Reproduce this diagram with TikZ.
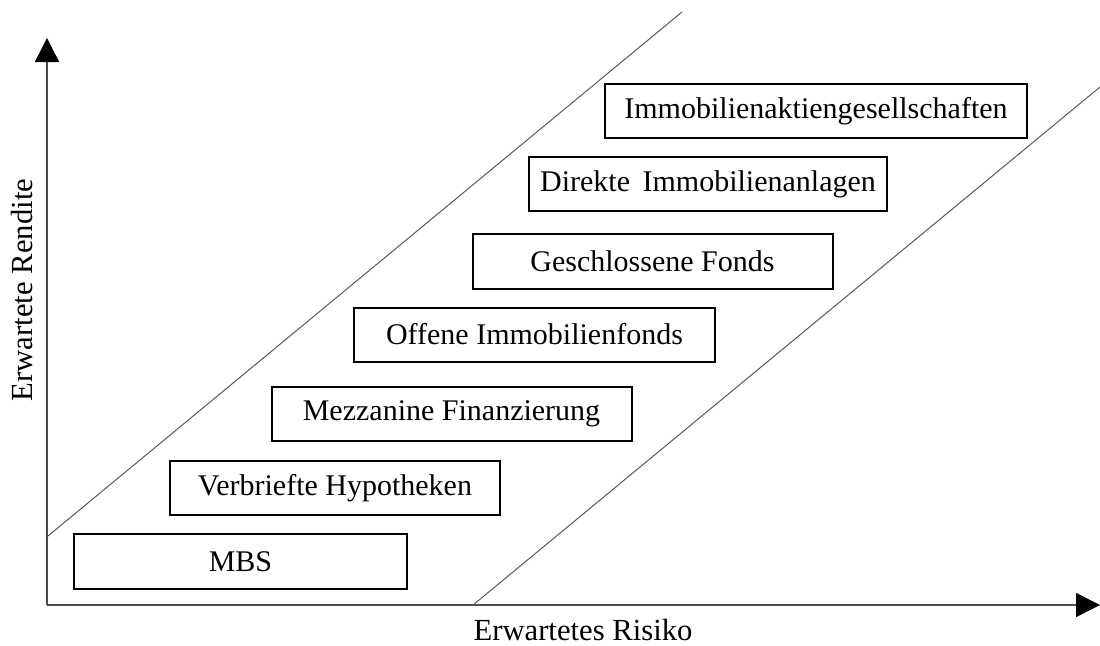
\documentclass[tikz,border=0pt]{standalone}
\usepackage{fontspec}
\setmainfont{Liberation Serif}
\usetikzlibrary{arrows.meta}
\begin{document}
\begin{tikzpicture}[x=0.75pt,y=-0.75pt,
  axis/.style={draw=black!70,line width=1.1pt,
    -{Triangle[length=18pt,width=18pt,color=black]}},
  band/.style={draw=black!65,line width=0.75pt},
  classbox/.style={draw=black,line width=1.5pt,rectangle,inner sep=0pt,
    font=\fontsize{22.5}{27}\selectfont},
  axislabel/.style={font=\fontsize{23}{27}\selectfont,inner sep=0pt}]
  \useasboundingbox (0,0) rectangle (1100,646);

  % axes
  \coordinate (o) at (47,605);
  \coordinate (ytip) at (47,38);
  \coordinate (xtip) at (1100,605);
  \draw[axis] (o) -- (ytip);
  \draw[axis] (o) -- (xtip);

  % band boundaries
  \coordinate (u1) at (48,536);
  \coordinate (u2) at (682,12);
  \coordinate (l1) at (473,605);
  \coordinate (l2) at (1100,87);
  \draw[band] (u1) -- (u2);
  \draw[band] (l1) -- (l2);

  % investment classes
  \node[classbox,minimum width=333*0.75pt,minimum height=55*0.75pt] (mbs) at (240.5,561.5) {MBS};
  \node[classbox,minimum width=330*0.75pt,minimum height=54*0.75pt] (vh) at (335,488) {Verbriefte Hypotheken};
  \node[classbox,minimum width=360*0.75pt,minimum height=54*0.75pt] (mf) at (451.5,413.5) {Mezzanine Finanzierung};
  \node[classbox,minimum width=361*0.75pt,minimum height=54*0.75pt] (oi) at (534.5,334.5) {Offene Immobilienfonds};
  \node[classbox,minimum width=360*0.75pt,minimum height=55*0.75pt] (gf) at (652.5,261.5) {Geschlossene Fonds};
  \node[classbox,minimum width=358*0.75pt,minimum height=54*0.75pt] (di) at (708,184) {Direkte\, Immobilienanlagen};
  \node[classbox,minimum width=422*0.75pt,minimum height=54*0.75pt] (ia) at (816,111) {Immobilienaktiengesellschaften};

  % axis titles
  \node[axislabel,rotate=90] (ylab) at (22,290) {Erwartete Rendite};
  \node[axislabel] (xlab) at (583,630) {Erwartetes Risiko};
\end{tikzpicture}
\end{document}
